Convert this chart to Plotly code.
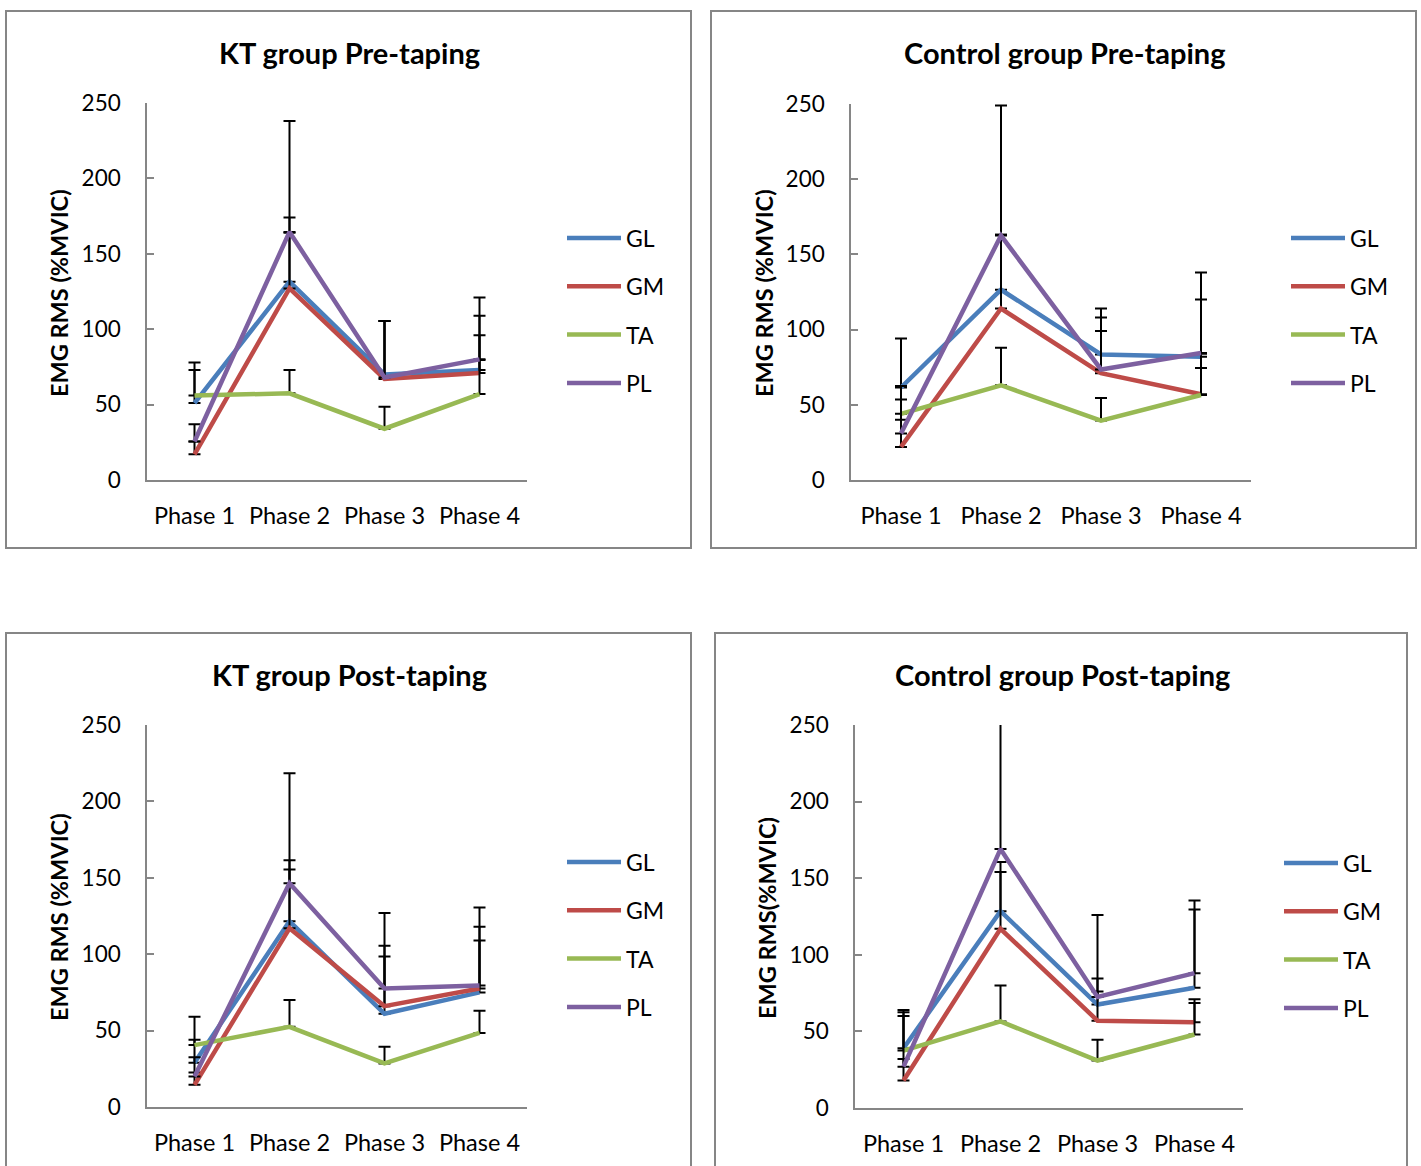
import plotly.graph_objects as go

# ---------------- data ----------------
PHASES = ["Phase 1", "Phase 2", "Phase 3", "Phase 4"]
MUSCLES = ["GL", "GM", "TA", "PL"]
Y_TICKS = [0, 50, 100, 150, 200, 250]

TITLES = ["KT group Pre-taping", "Control group Pre-taping",
          "KT group Post-taping", "Control group Post-taping"]
Y_TITLES = ["EMG RMS (%MVIC)", "EMG RMS (%MVIC)",
            "EMG RMS (%MVIC)", "EMG RMS(%MVIC)"]

# KT group pre-taping
kt_pre_GL = [51, 131.5, 70, 73]
kt_pre_GM = [17, 127, 67, 71]
kt_pre_TA = [56, 57.5, 34, 57]
kt_pre_PL = [25.5, 164.5, 68, 80]
kt_pre_GL_err = [22, 32.5, 35.5, 36]
kt_pre_GM_err = [8.5, 47, 38.5, 25]
kt_pre_TA_err = [22, 15.5, 14.5, 22.5]
kt_pre_PL_err = [11.5, 73.5, 37.5, 41]

# Control group pre-taping
ct_pre_GL = [61.5, 126.5, 83.5, 82]
ct_pre_GM = [22, 114, 71, 57]
ct_pre_TA = [44, 63, 39.5, 56.5]
ct_pre_PL = [31, 162.5, 73.5, 84.5]
ct_pre_GL_err = [32.5, 36.5, 30.5, 38]
ct_pre_GM_err = [18, 49, 28, 17.5]
ct_pre_TA_err = [9.5, 25, 15, 27.5]
ct_pre_PL_err = [31.5, 86.5, 34.5, 53.5]

# KT group post-taping
kt_post_GL = [29, 121.5, 61, 75]
kt_post_GM = [14.5, 117, 66, 77.5]
kt_post_TA = [40.5, 52.5, 28.5, 48.5]
kt_post_PL = [20, 146.5, 77.5, 79.5]
kt_post_GL_err = [15, 34, 37.5, 34]
kt_post_GM_err = [8, 44.5, 39.5, 40.5]
kt_post_TA_err = [18.5, 17.5, 11, 14.5]
kt_post_PL_err = [12.5, 72, 49.5, 51]

# Control group post-taping
ct_post_GL = [39, 128.5, 67.5, 78.5]
ct_post_GM = [18, 117, 57, 56]
ct_post_TA = [37.5, 56.5, 31, 48]
ct_post_PL = [27, 169, 72.5, 88]
ct_post_GL_err = [25, 25.5, 17, 51]
ct_post_GM_err = [14, 43.5, 19, 15]
ct_post_TA_err = [25, 23.5, 13.5, 20.5]
ct_post_PL_err = [33, 95, 53.5, 47.5]

PANEL_VALUES = [
    [kt_pre_GL, kt_pre_GM, kt_pre_TA, kt_pre_PL],
    [ct_pre_GL, ct_pre_GM, ct_pre_TA, ct_pre_PL],
    [kt_post_GL, kt_post_GM, kt_post_TA, kt_post_PL],
    [ct_post_GL, ct_post_GM, ct_post_TA, ct_post_PL],
]
PANEL_ERRORS = [
    [kt_pre_GL_err, kt_pre_GM_err, kt_pre_TA_err, kt_pre_PL_err],
    [ct_pre_GL_err, ct_pre_GM_err, ct_pre_TA_err, ct_pre_PL_err],
    [kt_post_GL_err, kt_post_GM_err, kt_post_TA_err, kt_post_PL_err],
    [ct_post_GL_err, ct_post_GM_err, ct_post_TA_err, ct_post_PL_err],
]

# ---------------- styling / layout ----------------
COLORS = {"GL": "#4A7EBB", "GM": "#BE4B48", "TA": "#98B954", "PL": "#7D60A0"}
W, H = 1421, 1166
FONT = "Lato, 'Open Sans', sans-serif"
AXIS_GRAY = "#868686"


def fx(px):
    return px / W


def fy(py):
    return 1 - py / H


# plot areas in pixels: (x0, x1, y_top, y_bottom)
PLOT_AREAS = [(147, 527, 103, 480), (851, 1251, 104, 480),
              (147, 527, 725, 1107), (855, 1243, 725, 1108)]
# panel frames: (x0, x1, y0, y1)
FRAMES = [(6, 691, 11, 548), (711, 1416, 11, 548),
          (6, 691, 633, 1180), (715, 1407, 633, 1180)]
TITLE_POS = [(349, 52), (1064, 52), (349, 674), (1062, 674)]
YTITLE_POS = [(59, 293), (764, 293), (59, 917), (767, 918)]
LEGEND_POS = [(567, 238), (1291, 238), (567, 862), (1284, 863)]
LEGEND_STEP = 48.3

fig = go.Figure()
shapes = []
annotations = []

for i in range(4):
    idx = "" if i == 0 else str(i + 1)
    xa, ya = "x" + idx, "y" + idx
    for m, vals, errs in zip(MUSCLES, PANEL_VALUES[i], PANEL_ERRORS[i]):
        fig.add_trace(go.Scatter(
            x=PHASES, y=vals, mode="lines", name=m,
            line=dict(color=COLORS[m], width=4.5),
            error_y=dict(type="data", symmetric=False, array=errs,
                         arrayminus=[0] * len(errs), color="black",
                         thickness=2, width=6),
            xaxis=xa, yaxis=ya, showlegend=False, hoverinfo="x+y+name",
        ))
    x0, x1, yt, yb = PLOT_AREAS[i]
    fig.layout["xaxis" + idx] = dict(
        domain=[fx(x0), fx(x1)], anchor=ya, type="category",
        categoryorder="array", categoryarray=PHASES, range=[-0.5, 3.5],
        showline=True, linecolor=AXIS_GRAY, linewidth=1.5, ticks="",
        showgrid=False, zeroline=False, ticklabelstandoff=14,
        automargin=False,
        tickfont=dict(family=FONT, size=23.5, color="black"),
    )
    fig.layout["yaxis" + idx] = dict(
        domain=[fy(yb), fy(yt)], anchor=xa, range=[0, 250],
        tickvals=Y_TICKS, ticks="inside", ticklen=7, tickwidth=1.5,
        tickcolor=AXIS_GRAY, showline=True, linecolor=AXIS_GRAY,
        linewidth=1.5, showgrid=False, zeroline=False,
        ticklabelstandoff=20, automargin=False,
        tickfont=dict(family=FONT, size=22.5, color="black"),
    )
    fx0, fx1, fy0, fy1 = FRAMES[i]
    shapes.append(dict(type="rect", xref="paper", yref="paper",
                       x0=fx(fx0), x1=fx(fx1), y0=fy(fy1), y1=fy(fy0),
                       line=dict(color=AXIS_GRAY, width=2), layer="below"))
    tx, ty = TITLE_POS[i]
    annotations.append(dict(text="<b>" + TITLES[i] + "</b>", x=fx(tx), y=fy(ty),
                            xref="paper", yref="paper", showarrow=False,
                            xanchor="center", yanchor="middle",
                            font=dict(family=FONT, size=29, color="black")))
    ax, ay = YTITLE_POS[i]
    annotations.append(dict(text="<b>" + Y_TITLES[i] + "</b>", x=fx(ax), y=fy(ay),
                            xref="paper", yref="paper", showarrow=False,
                            textangle=-90, xanchor="center", yanchor="middle",
                            font=dict(family=FONT, size=23.5, color="black")))
    lx, ly = LEGEND_POS[i]
    for k, m in enumerate(MUSCLES):
        yy = ly + k * LEGEND_STEP
        shapes.append(dict(type="line", xref="paper", yref="paper",
                           x0=fx(lx), x1=fx(lx + 54), y0=fy(yy), y1=fy(yy),
                           line=dict(color=COLORS[m], width=4.5)))
        annotations.append(dict(text=m, x=fx(lx + 57), y=fy(yy),
                                xref="paper", yref="paper", showarrow=False,
                                xanchor="left", yanchor="middle",
                                font=dict(family=FONT, size=23, color="black")))

fig.update_layout(
    width=W, height=H,
    margin=dict(l=0, r=0, t=0, b=0, pad=0, autoexpand=False),
    paper_bgcolor="white", plot_bgcolor="white",
    shapes=shapes, annotations=annotations, showlegend=False,
    font=dict(family=FONT, color="black"),
)

PAGE_JS = "document.body.style.margin='0';document.body.style.overflow='hidden';"

fig.write_html("out.html", config={"displayModeBar": False}, post_script=PAGE_JS)
